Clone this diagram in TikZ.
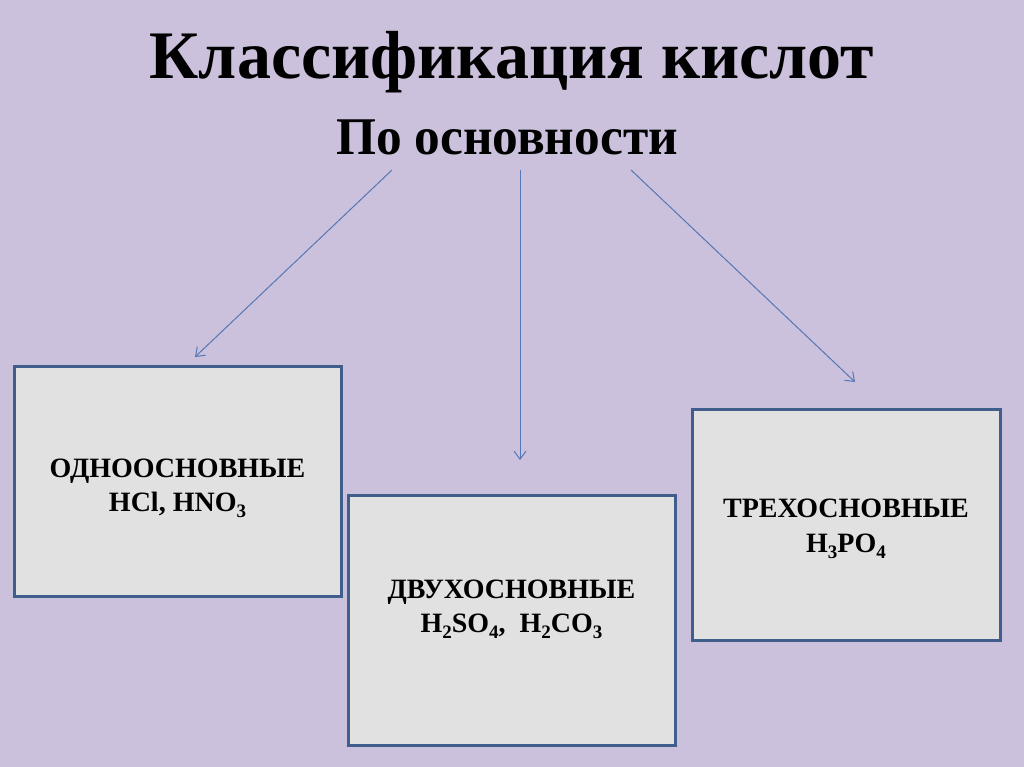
\documentclass[tikz,border=0pt]{standalone}
\usepackage{fontspec}
\setmainfont{Liberation Serif}
\usetikzlibrary{arrows.meta}
\definecolor{bg}{HTML}{CBC1DC}
\definecolor{boxfill}{HTML}{E1E1E1}
\definecolor{boxline}{HTML}{3F5E8C}
\definecolor{arr}{HTML}{5577B5}
\newcommand\chsub[1]{\raisebox{-0.22em}{\fontsize{19}{19}\selectfont #1}}
\tikzset{
  kind/.style={draw=boxline, line width=3pt, fill=boxfill, inner sep=0pt},
  label/.style={font=\fontsize{28}{34}\selectfont\bfseries, anchor=base, inner sep=0pt},
  link/.style={draw=arr, line width=1pt, -{Straight Barb[length=8pt,width=12pt]}},
}
\begin{document}
\begin{tikzpicture}[x=1pt,y=-1pt]
\useasboundingbox[fill=bg] (0,0) rectangle (1024,767);
\node[anchor=base, inner sep=0pt, font=\fontsize{68}{74}\selectfont\bfseries] (title) at (512,79) {Классификация кислот};
\node[anchor=base, inner sep=0pt] (sub) at (507,155) {\scalebox{0.97}[1]{\fontsize{53}{58}\selectfont\bfseries По основности}};
\node[kind, minimum width=327pt, minimum height=230pt] (b1) at (177.5,481) {};
\node[kind, minimum width=327pt, minimum height=250pt] (b2) at (511.5,620) {};
\node[kind, minimum width=308pt, minimum height=231pt] (b3) at (846,524.5) {};
\node[label] (t1a) at (177.5,477) {ОДНООСНОВНЫЕ};
\node[label] (t1b) at (177.5,511) {HCl, HNO\chsub{3}};
\node[label] (t2a) at (511.5,598) {ДВУХОСНОВНЫЕ};
\node[label] (t2b) at (511.5,632) {H\chsub{2}SO\chsub{4},\ \ H\chsub{2}CO\chsub{3}};
\node[label] (t3a) at (846,517) {ТРЕХОСНОВНЫЕ};
\node[label] (t3b) at (846,552) {H\chsub{3}PO\chsub{4}};
\coordinate (s1) at (392,170);
\coordinate (s2) at (520,170);
\coordinate (s3) at (631,170);
\coordinate (e1) at (195,357);
\coordinate (e2) at (520,460);
\coordinate (e3) at (855,382);
\draw[link] (s1) -- (e1);
\draw[link] (s2) -- (e2);
\draw[link] (s3) -- (e3);
\end{tikzpicture}
\end{document}
